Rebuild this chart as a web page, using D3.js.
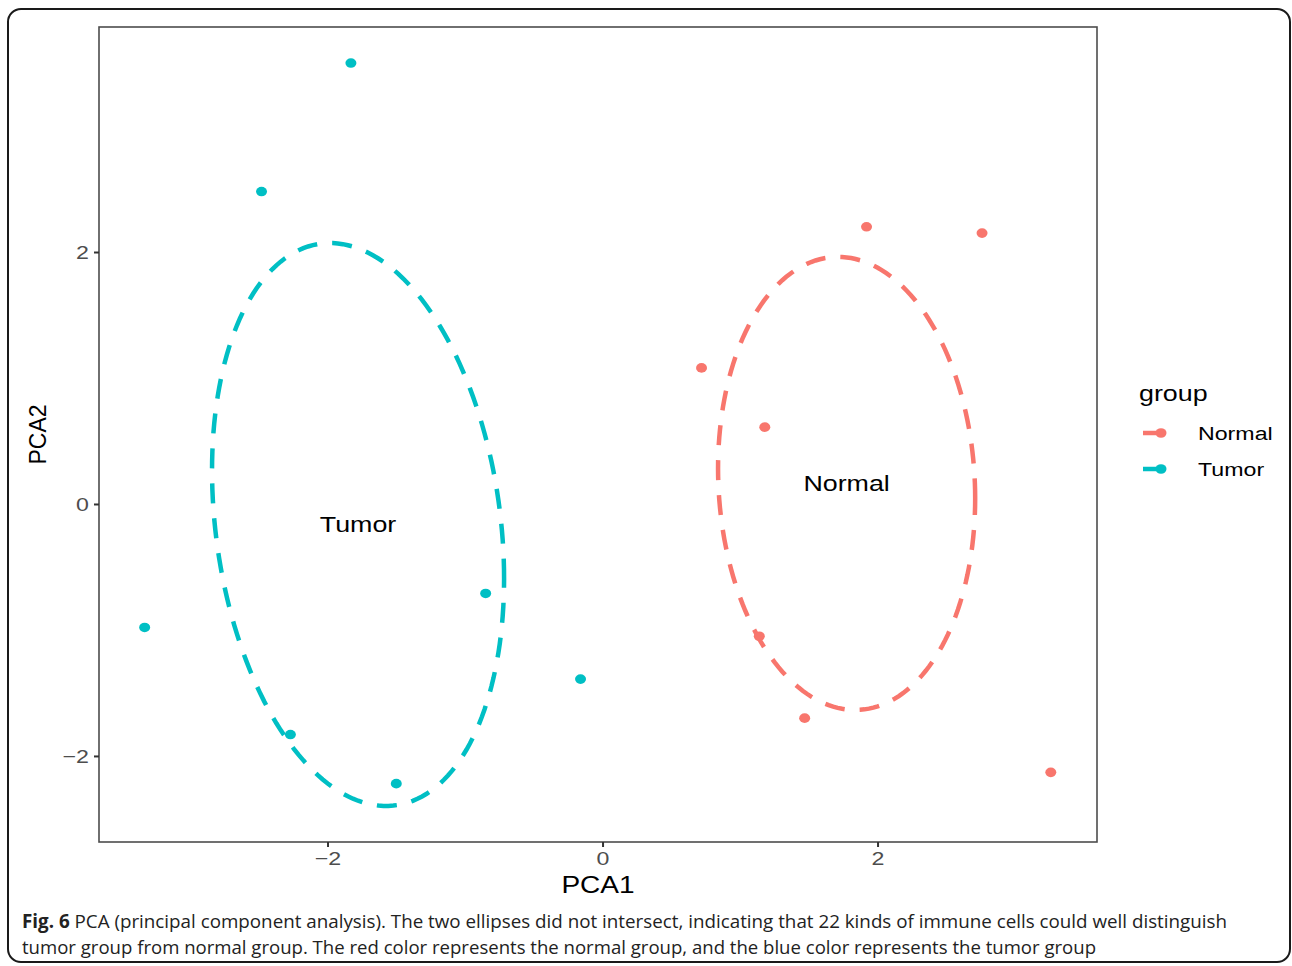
<!DOCTYPE html>
<html>
<head>
<meta charset="utf-8">
<script src="https://cdn.jsdelivr.net/npm/d3@7"></script>
<style>
  html, body { margin: 0; padding: 0; background: #fff; }
  svg { display: block; }
</style>
</head>
<body>
<svg id="chart" width="1292" height="966"></svg>
<script>
// PCA scores for each sample
const groups = ["Normal", "Tumor"];
const groupColors = ["#F8766D", "#00BFC4"];

const tumorPCA1 = [-1.83, -2.48, -3.33, -0.85, -0.16, -2.27, -1.50];
const tumorPCA2 = [3.50, 2.48, -0.98, -0.71, -1.39, -1.83, -2.22];

const normalPCA1 = [1.92, 2.76, 0.72, 1.18, 1.14, 1.47, 3.26];
const normalPCA2 = [2.20, 2.15, 1.08, 0.61, -1.05, -1.70, -2.13];

// Confidence ellipse per group (Normal, Tumor): centre, half extents, top-point shift
const ellipseCenterX = [1.775, -1.778];
const ellipseCenterY = [0.163, -0.163];
const ellipseHalfX = [0.935, 1.062];
const ellipseHalfY = [1.798, 2.234];
const ellipseTopShift = [-0.062, -0.204];

const xTicks = [-2, 0, 2];
const yTicks = [-2, 0, 2];

const captionLines = [
  { bold: "Fig. 6", text: " PCA (principal component analysis). The two ellipses did not intersect, indicating that 22 kinds of immune cells could well distinguish" },
  { bold: "", text: "tumor group from normal group. The red color represents the normal group, and the blue color represents the tumor group" }
];

const svg = d3.select("#chart");
const SX = 1.22; // horizontal stretch of the plot lettering

// outer figure frame
svg.append("rect")
  .attr("x", 8).attr("y", 9).attr("width", 1282).attr("height", 953)
  .attr("rx", 13).attr("ry", 13)
  .attr("fill", "none").attr("stroke", "#1a1a1a").attr("stroke-width", 2);

const panel = { left: 99, right: 1097, top: 27, bottom: 842 };

const x = d3.scaleLinear().domain([-3.662, 3.596]).range([panel.left, panel.right]);
const y = d3.scaleLinear().domain([-2.683, 3.786]).range([panel.bottom, panel.top]);

const plotFont = "'Liberation Sans', Arial, Helvetica, sans-serif";

function label(parent, px, py, txt, size, anchor, dy) {
  return parent.append("text")
    .attr("transform", `translate(${px},${py}) scale(${SX},1)`)
    .attr("text-anchor", anchor || "start")
    .attr("dy", dy || 0)
    .style("font-family", plotFont).style("font-size", size + "px")
    .attr("fill", "#000")
    .text(txt);
}

// panel border
svg.append("rect")
  .attr("x", panel.left).attr("y", panel.top)
  .attr("width", panel.right - panel.left).attr("height", panel.bottom - panel.top)
  .attr("fill", "#fff").attr("stroke", "#4d4d4d").attr("stroke-width", 1.6);

// axes
const fmt = d => d < 0 ? "\u2212" + Math.abs(d) : d;
const xAxis = svg.append("g")
  .attr("transform", `translate(0,${panel.bottom})`)
  .call(d3.axisBottom(x).tickValues(xTicks).tickSize(5).tickPadding(4).tickFormat(fmt));
const yAxis = svg.append("g")
  .attr("transform", `translate(${panel.left},0)`)
  .call(d3.axisLeft(y).tickValues(yTicks).tickSize(5).tickPadding(5).tickFormat(fmt));
[xAxis, yAxis].forEach(a => {
  a.select(".domain").remove();
  a.selectAll(".tick line").attr("stroke", "#333").attr("stroke-width", 2);
  a.selectAll(".tick text").attr("fill", "#4d4d4d")
    .style("font-family", plotFont).style("font-size", "19px")
    .attr("transform", `scale(${SX},1)`);
});
xAxis.selectAll(".tick text").attr("y", 10);
yAxis.selectAll(".tick text").attr("x", -10 / SX).attr("dy", "0.36em");

// axis titles
label(svg, (panel.left + panel.right) / 2, 893, "PCA1", 23, "middle");
svg.append("text")
  .attr("transform", `translate(46,${(panel.top + panel.bottom) / 2}) rotate(-90)`)
  .attr("text-anchor", "middle")
  .style("font-family", plotFont).style("font-size", "23px").attr("fill", "#000")
  .text("PCA2");

// ellipse outlines
const line = d3.line().x(d => x(d[0])).y(d => y(d[1]));
const angles = d3.range(0, 361, 2).map(a => a * Math.PI / 180);
groups.forEach((g, i) => {
  const sxx = ellipseHalfX[i] ** 2;
  const syy = ellipseHalfY[i] ** 2;
  const sxy = ellipseTopShift[i] * ellipseHalfY[i];
  const l11 = Math.sqrt(sxx);
  const l21 = sxy / l11;
  const l22 = Math.sqrt(syy - l21 * l21);
  const pts = angles.map(t => [
    ellipseCenterX[i] + l11 * Math.cos(t),
    ellipseCenterY[i] + l21 * Math.cos(t) + l22 * Math.sin(t)
  ]);
  svg.append("path")
    .attr("d", line(pts))
    .attr("fill", "none")
    .attr("stroke", groupColors[i])
    .attr("stroke-width", 4.5)
    .attr("stroke-dasharray", "20,15");
});

// sample points
const samples = [
  ...normalPCA1.map((v, j) => ({ g: 0, pc1: v, pc2: normalPCA2[j] })),
  ...tumorPCA1.map((v, j) => ({ g: 1, pc1: v, pc2: tumorPCA2[j] }))
];
svg.append("g").selectAll("ellipse").data(samples).join("ellipse")
  .attr("cx", d => x(d.pc1)).attr("cy", d => y(d.pc2))
  .attr("rx", 5.5).attr("ry", 4.8)
  .attr("fill", d => groupColors[d.g]);

// group labels at ellipse centres
groups.forEach((g, i) => {
  label(svg, x(ellipseCenterX[i]), y(ellipseCenterY[i]), g, 22, "middle", "0.35em");
});

// legend
const legend = svg.append("g");
label(legend, 1139, 401, "group", 22);
groups.forEach((g, i) => {
  const ky = 433 + i * 36;
  legend.append("line")
    .attr("x1", 1143).attr("x2", 1161).attr("y1", ky).attr("y2", ky)
    .attr("stroke", groupColors[i]).attr("stroke-width", 4.5);
  legend.append("ellipse")
    .attr("cx", 1161).attr("cy", ky).attr("rx", 5.5).attr("ry", 4.8)
    .attr("fill", groupColors[i]);
  label(legend, 1198, ky, g, 19, "start", "0.35em");
});

// caption
const capFont = "'Open Sans', 'Noto Sans', sans-serif";
const capWidths = [1205, 1074];
captionLines.forEach((c, i) => {
  const t = svg.append("text")
    .attr("x", 22).attr("y", 928 + i * 26)
    .attr("textLength", capWidths[i]).attr("lengthAdjust", "spacingAndGlyphs")
    .style("font-family", capFont).style("font-size", "19px").attr("fill", "#222");
  if (c.bold) t.append("tspan").attr("font-weight", "bold").text(c.bold);
  t.append("tspan").text(c.text);
});
</script>
</body>
</html>
